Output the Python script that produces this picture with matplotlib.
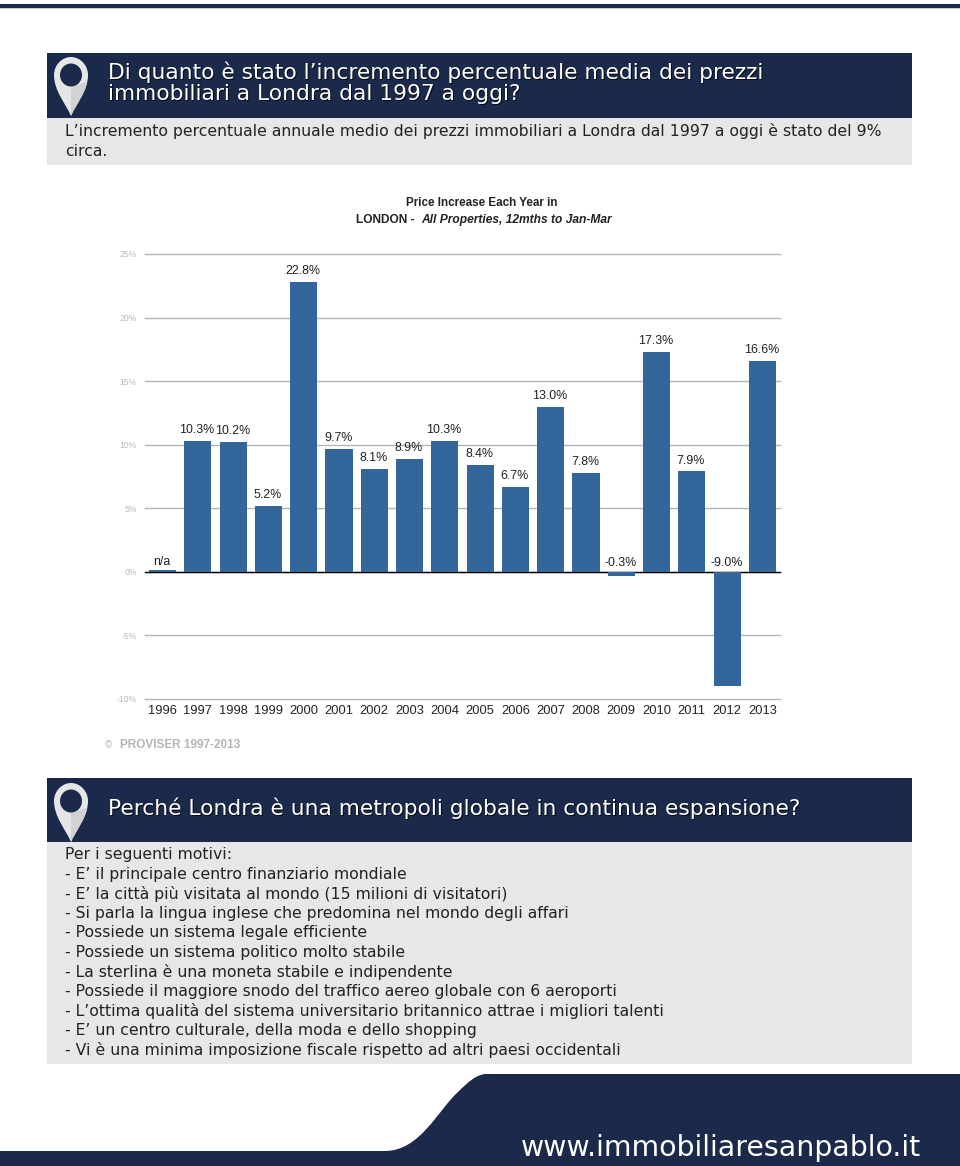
## Imports

from matplotlib import pyplot as plt
from matplotlib.path import Path
from matplotlib.patches import PathPatch, Rectangle, Ellipse, Polygon

## Donnees

annees = ['1996','1997','1998','1999','2000','2001','2002','2003','2004','2005',
          '2006','2007','2008','2009','2010','2011','2012','2013']
valeurs = [0.12,10.3,10.2,5.2,22.8,9.7,8.1,8.9,10.3,8.4,6.7,13.0,7.8,-0.3,17.3,7.9,-9.0,16.6]
etiquettes = ['n/a','10.3%','10.2%','5.2%','22.8%','9.7%','8.1%','8.9%','10.3%','8.4%',
              '6.7%','13.0%','7.8%','-0.3%','17.3%','7.9%','-9.0%','16.6%']
graduations = [-10,-5,0,5,10,15,20,25]

titre_1 = ["Di quanto è stato l’incremento percentuale media dei prezzi",
           "immobiliari a Londra dal 1997 a oggi?"]
texte_1 = ["L’incremento percentuale annuale medio dei prezzi immobiliari a Londra dal 1997 a oggi è stato del 9%",
           "circa."]
titre_2 = "Perché Londra è una metropoli globale in continua espansione?"
motifs = ["Per i seguenti motivi:",
          "- E’ il principale centro finanziario mondiale",
          "- E’ la città più visitata al mondo (15 milioni di visitatori)",
          "- Si parla la lingua inglese che predomina nel mondo degli affari",
          "- Possiede un sistema legale efficiente",
          "- Possiede un sistema politico molto stabile",
          "- La sterlina è una moneta stabile e indipendente",
          "- Possiede il maggiore snodo del traffico aereo globale con 6 aeroporti",
          "- L’ottima qualità del sistema universitario britannico attrae i migliori talenti",
          "- E’ un centro culturale, della moda e dello shopping",
          "- Vi è una minima imposizione fiscale rispetto ad altri paesi occidentali"]

W,H = 960,1166
BLEU = '#1b2a4a'
GRIS = '#e7e7e7'
BARRE = '#33679c'

fig = plt.figure(figsize=(W/100,H/100),dpi=100,facecolor='white')

## Fond en coordonnees pixels

fond = fig.add_axes([0,0,1,1])
fond.set_xlim(0,W)
fond.set_ylim(H,0)
fond.axis('off')

def Bloc(x0,y0,x1,y1,c):
    fond.add_patch(Rectangle((x0,y0),x1-x0,y1-y0,fc=c,ec='none'))

def Epingle(cx,cy):
    # goutte claire, cote droit plus sombre, puis le trou
    d = [(Path.MOVETO,(cx,cy+49)),
         (Path.CURVE4,(cx-5,cy+37)),(Path.CURVE4,(cx-17,cy+24)),(Path.CURVE4,(cx-17,cy+8)),
         (Path.CURVE4,(cx-17,cy-2)),(Path.CURVE4,(cx-9,cy-10)),(Path.CURVE4,(cx,cy-10)),
         (Path.CURVE4,(cx+9,cy-10)),(Path.CURVE4,(cx+17,cy-2)),(Path.CURVE4,(cx+17,cy+8)),
         (Path.CURVE4,(cx+17,cy+24)),(Path.CURVE4,(cx+5,cy+37)),(Path.CURVE4,(cx,cy+49)),
         (Path.CLOSEPOLY,(cx,cy+49))]
    codes,pts = zip(*d)
    goutte = PathPatch(Path(pts,codes),fc='#e6e6e6',ec='none')
    fond.add_patch(goutte)
    coin = Polygon([(cx,cy+50),(cx,cy+20),(cx+18,cy+14),(cx+18,cy+50)],fc='#d2d2d2',ec='none')
    fond.add_patch(coin)
    coin.set_clip_path(goutte)
    fond.add_patch(Ellipse((cx,cy+8),22,23,fc=BLEU,ec='none'))

def Titre(x,y,t):
    # ombre = meme texte decale
    fond.text(x+1,y+1,t,color='black',alpha=0.8,fontsize=15.7,va='center',family='DejaVu Sans')
    fond.text(x,y,t,color='white',fontsize=15.7,va='center',family='DejaVu Sans')

Bloc(0,4,W,7.5,BLEU)
Bloc(0,7.5,W,9,'#c9ccd2')
Bloc(47,53,912,118,BLEU)
Bloc(47,118,912,165,GRIS)
Bloc(47,778,912,842,BLEU)
Bloc(47,842,912,1064,GRIS)
Epingle(71,67)
Epingle(71,793)

for i,t in enumerate(titre_1):
    Titre(108,72+22*i,t)
Titre(108,808,titre_2)
for i,t in enumerate(texte_1):
    fond.text(65,131+20*i,t,color='#222222',fontsize=11.27,va='center',family='DejaVu Sans')
for i,t in enumerate(motifs):
    fond.text(65,855+19.45*i,t,color='#222222',fontsize=11.27,va='center',family='DejaVu Sans')

# bas de page
v = [(Path.MOVETO,(485,1074)),(Path.LINETO,(W,1074)),(Path.LINETO,(W,H)),(Path.LINETO,(0,H)),
     (Path.LINETO,(0,1151)),(Path.LINETO,(385,1151)),
     (Path.CURVE4,(420,1151)),(Path.CURVE4,(438,1110)),(Path.CURVE4,(458,1092)),
     (Path.CURVE4,(468,1082)),(Path.CURVE4,(476,1075)),(Path.CURVE4,(485,1074)),
     (Path.CLOSEPOLY,(485,1074))]
codes,pts = zip(*v)
fond.add_patch(PathPatch(Path(pts,codes),fc=BLEU,ec='none'))
fond.text(921,1148,"www.immobiliaresanpablo.it",color='white',fontsize=20.4,ha='right',va='center',family='DejaVu Sans')

# titre du graphique
fond.text(482,203,"Price Increase Each Year in",fontsize=8.4,weight='bold',ha='center',va='center',
          family='Liberation Sans',color='#222222')
fond.text(356,220,"LONDON -",fontsize=8.6,weight='bold',ha='left',va='center',family='Liberation Sans',color='#222222')
fond.text(421,220,"All Properties, 12mths to Jan-Mar",fontsize=8.65,weight='bold',style='italic',ha='left',va='center',
          family='Liberation Sans',color='#222222')
fond.text(105,745,"©",fontsize=7,color='#b5b5b5',va='center',family='Liberation Sans')
fond.text(120,745,"PROVISER 1997-2013",fontsize=8.5,weight='bold',color='#b5b5b5',va='center',family='Liberation Sans')

## Graphique

ax = fig.add_axes([145/W,1-699/H,(780-145)/W,(699-254)/H])
ax.patch.set_alpha(0)
x = list(range(len(annees)))
ax.bar(x,valeurs,width=0.77,color=BARRE,zorder=3)
ax.set_xlim(-0.5,17.5)
ax.set_ylim(-10,25)
ax.set_yticks(graduations)
ax.set_yticklabels([str(g)+'%' for g in graduations],fontsize=6.2,color='#b8b8b8',family='Liberation Sans')
ax.set_xticks(x)
ax.set_xticklabels(annees,fontsize=9.3,family='Liberation Sans',color='#222222')
ax.tick_params(axis='both',length=0)
ax.tick_params(axis='x',pad=4)
ax.tick_params(axis='y',pad=6)
for g in graduations:
    ax.axhline(g,color='#b4b4b4',lw=1,zorder=1,clip_on=False)
for s in ax.spines.values():
    s.set_visible(False)
ax.axhline(0,color='black',lw=1,zorder=2,clip_on=False)

for xi,val,lab in zip(x,valeurs,etiquettes):
    dy = 3.4 if val > 0.2 else 1.8
    ax.annotate(lab,(xi,max(val,0)),xytext=(-0.6,dy),textcoords='offset points',ha='center',va='bottom',
                fontsize=8.9,family='Liberation Sans',color='#222222',zorder=5)

fig.savefig('out.png',dpi=100)
